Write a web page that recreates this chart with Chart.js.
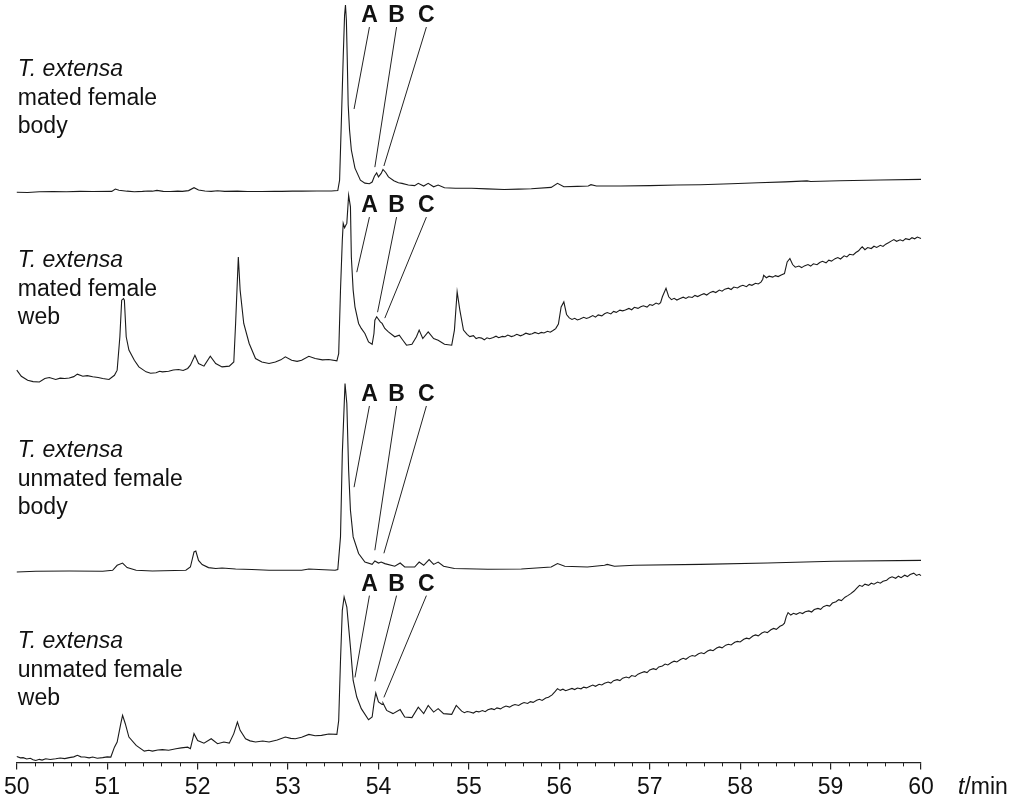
<!DOCTYPE html>
<html>
<head>
<meta charset="utf-8">
<title>GC traces – T. extensa</title>
<script src="https://cdn.jsdelivr.net/npm/chart.js@4/dist/chart.umd.min.js"></script>
<style>
  html, body { margin: 0; padding: 0; background: #fff; }
  #wrap { width: 1011px; height: 804px; }
</style>
</head>
<body>
<div id="wrap"><canvas id="gc" width="1011" height="804"></canvas></div>
<script>
// Retention-time axis (minutes)
const timeTicks = [50, 51, 52, 53, 54, 55, 56, 57, 58, 59, 60];

// Sample descriptions, one block per trace (top to bottom)
const sampleLabels = [
  ['T. extensa', 'mated female', 'body'],
  ['T. extensa', 'mated female', 'web'],
  ['T. extensa', 'unmated female', 'body'],
  ['T. extensa', 'unmated female', 'web']
];

// Detector response [time (min), relative signal (% of panel height)]
const matedBodyTrace = [
  [50.00,-0.9],[50.12,-1.0],[50.25,-0.6],[50.40,-0.5],[50.55,-0.6],[50.70,-0.4],[50.84,-0.5],[51.05,-0.4],
  [51.09,0.8],[51.13,0.2],[51.22,-0.3],[51.30,-0.6],[51.39,-0.4],[51.45,-0.2],[51.50,-0.3],[51.55,0.1],
  [51.62,-0.4],[51.70,-0.5],[51.78,-0.3],[51.83,-0.4],[51.90,0.0],[51.96,1.5],[52.01,0.3],[52.08,-0.2],
  [52.15,-0.4],[52.22,-0.1],[52.30,-0.4],[52.44,-0.3],[52.55,-0.5],[52.71,-0.5],[52.85,-0.4],[52.93,-0.4],
  [53.05,-0.3],[53.15,-0.3],[53.32,-0.2],[53.48,-0.2],[53.55,0.0],[53.57,5.5],[53.59,37],[53.61,70],
  [53.625,92],[53.635,97.4],[53.645,89.5],[53.655,68.5],[53.665,45],[53.68,31.8],[53.70,21.3],[53.74,11.8],
  [53.80,5.5],[53.85,3.9],[53.90,3.6],[53.93,4.5],[53.955,7.5],[53.98,9.3],[54.00,7.2],[54.03,9.0],
  [54.05,11.1],[54.08,9.5],[54.11,7.2],[54.17,5.2],[54.22,4.1],[54.26,3.8],[54.33,2.9],[54.40,2.6],
  [54.44,3.8],[54.50,2.4],[54.55,3.8],[54.61,2.0],[54.66,2.9],[54.73,1.5],[54.85,1.2],[55.03,1.2],
  [55.20,0.9],[55.39,0.6],[55.55,0.8],[55.69,1.0],[55.91,1.7],[55.98,3.8],[56.05,2.0],[56.20,2.2],
  [56.32,2.4],[56.35,3.1],[56.41,2.4],[56.68,2.4],[57.00,2.6],[57.30,2.9],[57.56,3.1],[57.90,3.6],
  [58.20,4.1],[58.50,4.6],[58.74,5.1],[58.78,4.8],[59.10,5.2],[59.55,5.6],[60.00,5.9]
];

const matedWebTrace = [
  [50.00,5.8],[50.05,2.6],[50.12,0.5],[50.18,-0.2],[50.25,-0.4],[50.31,1.4],[50.36,1.9],[50.43,0.9],
  [50.48,1.6],[50.53,1.4],[50.58,1.7],[50.63,2.4],[50.67,3.7],[50.73,2.6],[50.78,2.9],[50.84,2.3],
  [50.90,1.9],[50.95,1.4],[51.02,0.9],[51.08,3.1],[51.11,5.8],[51.14,23.3],[51.16,42.5],[51.18,43.3],
  [51.19,42.5],[51.21,23.3],[51.24,16.3],[51.30,11.0],[51.35,7.5],[51.43,4.9],[51.48,4.2],[51.54,4.4],
  [51.58,5.2],[51.61,4.9],[51.68,5.2],[51.73,5.9],[51.79,6.1],[51.84,5.6],[51.89,6.7],[51.92,8.4],
  [51.97,13.6],[52.01,9.3],[52.07,7.9],[52.14,13.1],[52.20,9.3],[52.27,7.5],[52.35,7.9],[52.40,10.1],
  [52.42,30.3],[52.45,65.2],[52.47,47.8],[52.51,30.3],[52.57,19.8],[52.64,11.9],[52.71,10.1],[52.79,9.3],
  [52.86,10.1],[52.92,11.2],[52.97,12.8],[53.04,11.0],[53.10,10.4],[53.15,11.0],[53.23,13.1],[53.30,11.9],
  [53.38,11.2],[53.45,11.4],[53.54,10.7],[53.56,14.5],[53.58,47.8],[53.60,74.0],[53.61,82.8],[53.625,80.5],
  [53.64,81.9],[53.65,82.8],[53.67,97.6],[53.69,91.5],[53.70,65.2],[53.72,47.8],[53.74,39.0],[53.78,30.3],
  [53.81,27.7],[53.85,25.0],[53.89,20.6],[53.93,19.4],[53.95,25.0],[53.96,32.0],[53.98,33.8],[54.02,31.1],
  [54.04,30.3],[54.07,27.7],[54.11,25.9],[54.18,23.3],[54.23,24.1],[54.27,21.5],[54.31,18.9],[54.37,19.4],
  [54.42,23.3],[54.45,26.8],[54.49,22.4],[54.55,25.9],[54.61,22.4],[54.66,21.5],[54.73,19.4],[54.81,18.9],
  [54.84,26.8],[54.87,46.9],[54.90,37.3],[54.94,26.8],[54.98,24.6],[55.01,23.4],[55.05,23.9],[55.08,22.4],
  [55.11,22.9],[55.14,22.6],[55.17,21.7],[55.20,22.8],[55.23,22.3],[55.27,22.9],[55.30,23.6],[55.33,22.8],
  [55.37,23.5],[55.40,23.3],[55.43,24.2],[55.47,23.4],[55.50,23.9],[55.53,24.6],[55.57,23.8],[55.60,24.4],
  [55.63,25.2],[55.67,24.6],[55.70,24.9],[55.73,25.6],[55.77,24.9],[55.80,25.6],[55.83,25.3],[55.87,26.2],
  [55.90,25.7],[55.93,26.6],[55.96,27.6],[55.99,30.0],[56.02,39.0],[56.05,41.6],[56.08,35.0],[56.11,33.2],
  [56.14,32.4],[56.17,33.0],[56.20,32.1],[56.23,32.6],[56.27,33.5],[56.30,32.9],[56.33,33.4],[56.37,34.4],
  [56.40,33.6],[56.43,34.8],[56.47,34.3],[56.50,35.4],[56.53,36.0],[56.57,35.3],[56.60,36.6],[56.63,36.1],
  [56.67,37.3],[56.70,36.9],[56.73,37.4],[56.77,38.2],[56.80,37.5],[56.83,38.8],[56.87,38.2],[56.90,39.0],
  [56.93,39.6],[56.97,38.9],[57.00,40.2],[57.03,39.8],[57.07,41.0],[57.10,40.4],[57.12,41.2],[57.14,44.3],
  [57.18,48.7],[57.21,44.3],[57.24,42.8],[57.27,43.5],[57.30,42.6],[57.33,43.3],[57.37,44.1],[57.40,43.4],
  [57.43,44.3],[57.47,43.9],[57.50,45.0],[57.53,44.4],[57.57,45.3],[57.60,45.9],[57.63,45.2],[57.67,46.6],
  [57.70,47.1],[57.73,46.5],[57.77,47.8],[57.80,47.2],[57.83,48.3],[57.87,48.8],[57.90,48.1],[57.93,49.4],
  [57.97,48.9],[58.00,49.8],[58.03,50.3],[58.07,49.6],[58.10,50.8],[58.13,50.3],[58.17,51.4],[58.20,51.0],
  [58.23,52.0],[58.25,53.5],[58.26,55.6],[58.29,54.3],[58.32,55.1],[58.36,54.6],[58.39,55.4],[58.42,54.9],
  [58.46,55.8],[58.49,56.5],[58.52,62.6],[58.55,64.4],[58.58,61.2],[58.61,59.8],[58.65,60.4],[58.68,59.6],
  [58.71,60.5],[58.75,61.2],[58.78,60.4],[58.81,61.6],[58.85,61.1],[58.88,62.3],[58.91,62.9],[58.95,62.1],
  [58.98,63.5],[59.01,63.0],[59.05,64.3],[59.08,64.9],[59.11,64.1],[59.15,65.8],[59.18,65.2],[59.21,66.6],
  [59.25,66.2],[59.28,67.5],[59.31,68.4],[59.33,69.6],[59.35,70.5],[59.38,69.0],[59.41,70.1],[59.45,69.6],
  [59.48,70.8],[59.51,70.2],[59.55,71.3],[59.58,70.7],[59.61,71.9],[59.64,72.6],[59.67,73.5],[59.70,74.3],
  [59.73,73.4],[59.77,74.2],[59.80,73.6],[59.83,74.8],[59.87,74.3],[59.90,75.3],[59.93,74.7],[59.96,75.6],
  [60.00,74.9]
];

const unmatedBodyTrace = [
  [50.00,-0.1],[50.21,0.3],[50.58,0.4],[50.95,0.3],[51.06,0.8],[51.11,3.4],[51.17,4.6],[51.22,2.2],
  [51.32,0.8],[51.50,0.4],[51.87,0.8],[51.92,2.5],[51.96,10.4],[51.98,10.9],[52.01,6.0],[52.05,3.8],
  [52.12,2.2],[52.20,1.7],[52.27,2.0],[52.42,1.5],[52.60,1.2],[52.79,0.8],[53.15,0.8],[53.23,1.5],
  [53.34,1.2],[53.52,0.8],[53.55,1.2],[53.58,18.3],[53.60,62.0],[53.63,98.8],[53.65,88.3],[53.67,53.3],
  [53.69,32.3],[53.72,18.3],[53.78,9.6],[53.85,5.1],[53.93,3.9],[53.96,5.7],[54.00,4.6],[54.03,5.1],
  [54.07,4.3],[54.18,2.9],[54.24,4.6],[54.29,2.5],[54.40,2.5],[54.45,5.1],[54.50,3.4],[54.56,6.4],
  [54.61,3.9],[54.66,5.1],[54.72,2.9],[54.84,1.7],[55.21,1.3],[55.58,1.5],[55.91,2.5],[55.98,4.3],
  [56.06,2.9],[56.31,2.5],[56.50,3.4],[56.53,3.9],[56.61,2.9],[56.83,3.4],[57.56,3.9],[58.30,4.6],
  [59.03,5.5],[60.00,6.0]
];

const unmatedWebTrace = [
  [50.00,3.1],[50.04,2.4],[50.07,2.5],[50.11,1.8],[50.15,2.2],[50.18,1.4],[50.21,1.0],[50.25,1.6],
  [50.28,1.2],[50.32,1.9],[50.37,1.5],[50.43,1.9],[50.48,2.3],[50.53,2.0],[50.58,2.5],[50.63,2.9],
  [50.67,3.7],[50.71,2.9],[50.75,2.8],[50.80,2.4],[50.84,2.8],[50.89,2.2],[50.95,2.5],[51.00,2.9],
  [51.04,2.8],[51.08,8.0],[51.11,10.7],[51.15,20.3],[51.17,24.7],[51.20,20.3],[51.24,13.3],[51.32,8.9],
  [51.41,5.9],[51.46,6.4],[51.50,5.9],[51.56,6.5],[51.61,6.7],[51.68,6.4],[51.76,7.2],[51.82,7.6],
  [51.89,8.0],[51.92,7.2],[51.96,15.1],[52.00,11.5],[52.07,10.1],[52.15,12.4],[52.22,9.8],[52.29,10.7],
  [52.35,10.1],[52.40,15.1],[52.44,21.2],[52.47,16.8],[52.53,12.4],[52.58,11.3],[52.64,10.7],[52.72,11.2],
  [52.79,10.7],[52.88,11.8],[52.97,13.3],[53.03,12.6],[53.08,12.4],[53.15,13.2],[53.23,14.7],[53.30,14.0],
  [53.37,14.2],[53.45,14.9],[53.54,14.7],[53.56,22.0],[53.58,53.5],[53.60,79.8],[53.62,86.8],[53.65,81.5],
  [53.69,60.5],[53.72,43.0],[53.76,34.3],[53.81,28.2],[53.89,22.4],[53.93,23.8],[53.95,30.8],[53.97,36.4],
  [54.00,31.7],[54.04,30.4],[54.05,31.1],[54.09,27.3],[54.16,25.6],[54.24,27.7],[54.29,23.8],[54.37,23.5],
  [54.44,29.0],[54.50,25.6],[54.55,29.9],[54.61,26.4],[54.66,28.2],[54.72,25.6],[54.81,25.2],[54.86,29.9],
  [54.92,26.9],[54.95,26.1],[54.98,26.7],[55.01,26.4],[55.05,25.9],[55.08,26.8],[55.11,26.5],[55.15,27.2],
  [55.18,26.6],[55.21,27.6],[55.25,28.2],[55.28,27.7],[55.31,28.6],[55.35,28.1],[55.38,29.0],[55.41,29.6],
  [55.45,29.0],[55.48,29.8],[55.51,30.4],[55.55,29.9],[55.58,30.8],[55.61,31.4],[55.65,30.9],[55.68,31.9],
  [55.71,31.5],[55.75,32.6],[55.78,33.1],[55.81,32.5],[55.85,33.8],[55.88,34.2],[55.92,35.4],[55.95,37.0],
  [55.98,38.7],[56.01,37.8],[56.04,38.4],[56.07,37.6],[56.10,38.1],[56.14,38.8],[56.17,38.2],[56.20,39.0],
  [56.24,38.6],[56.27,39.5],[56.30,39.1],[56.34,40.0],[56.37,40.6],[56.40,39.9],[56.44,41.0],[56.47,40.6],
  [56.50,41.5],[56.54,42.2],[56.57,41.6],[56.60,42.9],[56.64,43.4],[56.67,42.9],[56.70,44.2],[56.74,44.8],
  [56.77,44.3],[56.80,45.6],[56.84,45.1],[56.87,46.3],[56.90,46.9],[56.94,47.6],[56.97,47.1],[57.00,48.5],
  [57.04,49.2],[57.07,48.7],[57.10,50.1],[57.14,50.6],[57.17,51.6],[57.20,51.1],[57.24,52.4],[57.27,53.1],
  [57.30,52.7],[57.34,54.0],[57.37,54.6],[57.40,54.1],[57.44,55.5],[57.47,56.1],[57.50,55.7],[57.54,57.0],
  [57.57,57.5],[57.60,57.0],[57.64,58.4],[57.67,59.0],[57.70,58.6],[57.74,60.0],[57.77,60.6],[57.80,60.1],
  [57.84,61.5],[57.87,62.0],[57.90,61.6],[57.94,63.0],[57.97,63.5],[58.00,63.2],[58.04,64.6],[58.07,65.2],
  [58.10,64.8],[58.14,66.3],[58.17,66.9],[58.20,66.4],[58.24,67.9],[58.27,68.5],[58.30,68.1],[58.34,69.6],
  [58.37,70.3],[58.40,69.8],[58.44,71.4],[58.47,72.1],[58.49,73.0],[58.51,76.5],[58.53,78.6],[58.56,77.3],
  [58.59,78.2],[58.62,77.7],[58.66,78.6],[58.69,78.1],[58.72,79.0],[58.76,79.5],[58.79,78.9],[58.82,80.2],
  [58.86,80.8],[58.89,80.3],[58.92,81.7],[58.96,82.4],[58.99,82.0],[59.02,83.6],[59.06,84.3],[59.09,85.4],
  [59.12,84.9],[59.16,86.7],[59.19,87.5],[59.22,88.4],[59.26,89.9],[59.29,91.4],[59.32,92.9],[59.35,92.3],
  [59.38,93.5],[59.42,92.9],[59.45,94.0],[59.48,93.5],[59.52,94.6],[59.55,94.0],[59.58,95.0],[59.62,95.6],
  [59.65,96.8],[59.68,97.4],[59.72,96.6],[59.75,97.7],[59.78,96.9],[59.82,98.2],[59.85,97.5],[59.88,98.6],
  [59.92,99.3],[59.95,98.1],[59.98,98.7],[60.00,98.0]
];

// Peaks A, B, C: letter positions and the point each leader line marks, per trace
const peakLetters = ['A', 'B', 'C'];
const letterTimes = [53.90, 54.20, 54.53];
const letterLevels = [92.1, 92.4, 93.3, 93.8];
const pointerTimes = [
  [53.73, 53.96, 54.06],
  [53.76, 53.99, 54.07],
  [53.73, 53.96, 54.06],
  [53.74, 53.96, 54.06]
];
const pointerLevels = [
  [42.8, 12.3, 12.9],
  [57.2, 36.2, 33.1],
  [44.4, 11.3, 9.7],
  [44.6, 42.5, 34.1]
];

const FONT = "'Liberation Sans', Arial, Helvetica, sans-serif";
const INK = '#1a1a1a';
const traces = [matedBodyTrace, matedWebTrace, unmatedBodyTrace, unmatedWebTrace];
const panelAxes = ['y1', 'y2', 'y3', 'y4'];

const datasets = traces.map((trace, i) => ({
  label: sampleLabels[i].join(' '),
  data: trace.map(p => ({ x: p[0], y: p[1] })),
  yAxisID: panelAxes[i],
  borderColor: INK,
  borderWidth: 1.1,
  pointRadius: 0,
  tension: 0,
  clip: false
}));

const scales = {
  x: {
    type: 'linear',
    min: timeTicks[0],
    max: timeTicks[timeTicks.length - 1],
    afterBuildTicks: s => { s.ticks = timeTicks.map(v => ({ value: v })); },
    ticks: {
      autoSkip: false, maxRotation: 0, padding: 4,
      color: '#111', font: { family: FONT, size: 23 },
      callback: v => String(v)
    },
    grid: { display: true, drawOnChartArea: false, drawTicks: true, tickLength: 7, color: '#222', lineWidth: 1.2 },
    border: { display: true, color: '#222', width: 1.2 }
  }
};
// One vertical panel per trace, stacked top to bottom
panelAxes.forEach((id, i) => {
  scales[id] = {
    type: 'linear', position: 'left', stack: 'panels', stackWeight: 1,
    weight: panelAxes.length - i, min: 0, max: 100, display: false
  };
});

const overlay = {
  id: 'overlay',
  afterDatasetsDraw(chart) {
    const ctx = chart.ctx;
    const xs = chart.scales.x;
    const area = chart.chartArea;
    ctx.save();

    // minor ticks every 0.2 min
    ctx.strokeStyle = '#222';
    ctx.lineWidth = 1;
    for (let i = 1; i < (xs.max - xs.min) * 5; i++) {
      if (i % 5 === 0) continue;
      const px = Math.round(xs.getPixelForValue(xs.min + i * 0.2)) + 0.5;
      ctx.beginPath();
      ctx.moveTo(px, area.bottom);
      ctx.lineTo(px, area.bottom + 4);
      ctx.stroke();
    }

    // axis unit, right of the last tick label
    ctx.fillStyle = '#111';
    ctx.textBaseline = 'middle';
    ctx.textAlign = 'left';
    const uy = area.bottom + 25;
    let ux = xs.right + 37;
    ctx.font = `italic 23px ${FONT}`;
    ctx.fillText('t', ux, uy);
    ux += ctx.measureText('t').width;
    ctx.font = `23px ${FONT}`;
    ctx.fillText('/min', ux, uy);

    // sample descriptions
    ctx.textBaseline = 'alphabetic';
    const lineOffsets = [76, 105, 133];
    panelAxes.forEach((id, i) => {
      const ys = chart.scales[id];
      sampleLabels[i].forEach((txt, k) => {
        ctx.font = (k === 0 ? 'italic ' : '') + `23px ${FONT}`;
        ctx.fillText(txt, area.left + 1, ys.top + lineOffsets[k]);
      });
    });

    // peak letters and leader lines
    ctx.textAlign = 'center';
    ctx.textBaseline = 'middle';
    ctx.font = `bold 23px ${FONT}`;
    ctx.lineWidth = 1;
    ctx.strokeStyle = '#222';
    panelAxes.forEach((id, i) => {
      const ys = chart.scales[id];
      const ly = ys.getPixelForValue(letterLevels[i]);
      peakLetters.forEach((letter, k) => {
        const lx = xs.getPixelForValue(letterTimes[k]);
        ctx.fillText(letter, lx, ly + 1);
        ctx.beginPath();
        ctx.moveTo(lx, ly + 12);
        ctx.lineTo(xs.getPixelForValue(pointerTimes[i][k]), ys.getPixelForValue(pointerLevels[i][k]));
        ctx.stroke();
      });
    });
    ctx.restore();
  }
};

new Chart(document.getElementById('gc'), {
  type: 'line',
  data: { datasets },
  options: {
    responsive: false,
    animation: false,
    devicePixelRatio: 1,
    layout: { padding: { left: 14, right: 90, top: 0, bottom: -1 } },
    plugins: { legend: { display: false }, tooltip: { enabled: false }, title: { display: false } },
    scales
  },
  plugins: [overlay]
});
</script>
</body>
</html>
